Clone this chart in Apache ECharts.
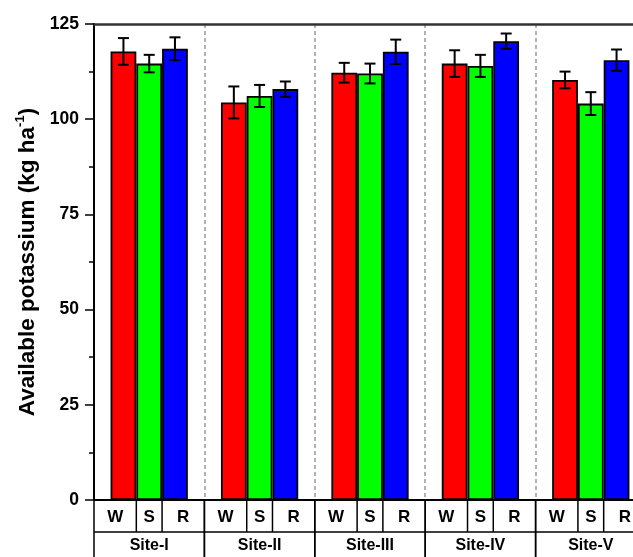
<!DOCTYPE html>
<html>
<head>
<meta charset="utf-8">
<script src="https://cdn.jsdelivr.net/npm/echarts@6/dist/echarts.min.js"></script>
<style>
  html, body { margin: 0; padding: 0; background: #fff; overflow: hidden; }
  /* the canvas runs a little past the window; the last site's right edge is cut off */
  #chart { width: 646px; height: 557px; }
</style>
</head>
<body>
<div id="chart"></div>
<script>
// Sites and management treatments
const sites = ['Site-I', 'Site-II', 'Site-III', 'Site-IV', 'Site-V'];
const treatments = ['W', 'S', 'R'];

// Available potassium (kg ha-1): means and standard errors per treatment
const wMean = [117.8, 104.4, 112.2, 114.6, 110.3];
const wErr  = [3.5, 4.2, 2.6, 3.5, 2.2];
const sMean = [114.6, 106.1, 112.0, 114.0, 104.1];
const sErr  = [2.3, 2.9, 2.6, 2.9, 3.0];
const rMean = [118.5, 107.9, 117.7, 120.5, 115.5];
const rErr  = [3.0, 2.0, 3.2, 2.0, 2.8];

// Y axis ticks
const yMin = 0, yMax = 125, yStep = 25;

const colors = ['#ff0000', '#00ff00', '#0000ff'];
const FONT = '"Liberation Sans", Arial, sans-serif';
const GROUP_FRAC = 0.7; // share of each site band filled by its three bars

const means = [wMean, sMean, rMean];
const errs = [wErr, sErr, rErr];

const chart = echarts.init(document.getElementById('chart'));

function barSeries(k) {
  return {
    name: treatments[k],
    type: 'bar',
    xAxisIndex: 0,
    data: means[k],
    barGap: '0%',
    barCategoryGap: ((1 - GROUP_FRAC) * 100) + '%',
    itemStyle: { color: colors[k], borderColor: '#000', borderWidth: 1.8 },
    z: 3
  };
}

function errorSeries(k) {
  return {
    type: 'custom',
    xAxisIndex: 0,
    data: means[k].map((m, i) => [i, m - errs[k][i], m + errs[k][i]]),
    z: 5,
    clip: false,
    renderItem(params, api) {
      const i = api.value(0);
      const top = api.coord([i, api.value(2)]);
      const bot = api.coord([i, api.value(1)]);
      const band = api.size([1, 0])[0];
      const bw = band * GROUP_FRAC / 3;
      const x = top[0] + (k - 1) * bw;
      const cap = 5.5;
      const st = { stroke: '#000', lineWidth: 2 };
      return {
        type: 'group',
        children: [
          { type: 'line', shape: { x1: x, y1: top[1], x2: x, y2: bot[1] }, style: st },
          { type: 'line', shape: { x1: x - cap, y1: top[1], x2: x + cap, y2: top[1] }, style: st },
          { type: 'line', shape: { x1: x - cap, y1: bot[1], x2: x + cap, y2: bot[1] }, style: st }
        ]
      };
    }
  };
}

// Two-row category table under the x axis: treatment letters, then site names
const tableSeries = {
  type: 'custom',
  xAxisIndex: 0,
  data: sites.map((s, i) => [i, 0]),
  z: 6,
  clip: false,
  silent: true,
  renderItem(params, api) {
    const i = api.value(0);
    const base = api.coord([i, 0]);
    const cx = base[0], y0 = base[1];
    const band = api.size([1, 0])[0];
    const bw = band * GROUP_FRAC / 3;
    const left = cx - band / 2, right = cx + band / 2;
    const row1 = 32, row2 = 60;
    const st = { stroke: '#000', lineWidth: 1.5 };
    const txt = (t, x, y, size) => ({
      type: 'text',
      style: {
        text: t, x: x, y: y, fill: '#000',
        font: 'bold ' + size + 'px ' + FONT,
        align: 'center', verticalAlign: 'middle',
        textAlign: 'center', textVerticalAlign: 'middle'
      }
    });
    const cellEdges = [left, cx - bw / 2, cx + bw / 2, right];
    const children = [
      { type: 'line', shape: { x1: left, y1: y0, x2: left, y2: y0 + row2 }, style: st },
      { type: 'line', shape: { x1: right, y1: y0, x2: right, y2: y0 + row2 }, style: st },
      { type: 'line', shape: { x1: cellEdges[1], y1: y0, x2: cellEdges[1], y2: y0 + row1 }, style: st },
      { type: 'line', shape: { x1: cellEdges[2], y1: y0, x2: cellEdges[2], y2: y0 + row1 }, style: st },
      { type: 'line', shape: { x1: left, y1: y0 + row1, x2: right, y2: y0 + row1 }, style: st }
    ];
    treatments.forEach((t, k) => {
      children.push(txt(t, (cellEdges[k] + cellEdges[k + 1]) / 2, y0 + row1 / 2 + 1, 17));
    });
    children.push(txt(sites[i], cx, y0 + 46, 16));
    return { type: 'group', children };
  }
};

const option = {
  animation: false,
  backgroundColor: '#fff',
  grid: { left: 94, top: 24, right: 0, bottom: 57 },
  xAxis: [
    {
      type: 'category',
      data: sites,
      position: 'bottom',
      axisLine: { show: true, lineStyle: { color: '#000', width: 2 } },
      axisTick: { show: false },
      axisLabel: { show: false },
      splitLine: {
        show: true,
        lineStyle: { color: '#999', width: 1.5, type: [4, 3] }
      }
    },
    {
      type: 'category',
      data: sites,
      position: 'top',
      axisLine: { show: true, onZero: false, lineStyle: { color: '#333', width: 2.5 } },
      axisTick: { show: false },
      axisLabel: { show: false },
      splitLine: { show: false }
    }
  ],
  yAxis: {
    type: 'value',
    min: yMin,
    max: yMax,
    interval: yStep,
    name: '{t|Available potassium (kg ha}{s|-1}{t|)}',
    nameLocation: 'middle',
    nameGap: 48,
    nameRotate: 90,
    nameTextStyle: {
      rich: {
        t: { fontSize: 22.5, fontWeight: 'bold', fontFamily: FONT, color: '#000', lineHeight: 26 },
        s: { fontSize: 13, fontWeight: 'bold', fontFamily: FONT, color: '#000', verticalAlign: 'top', lineHeight: 26, padding: [0, 0, 10, 0] }
      }
    },
    axisLine: { show: true, lineStyle: { color: '#000', width: 2 } },
    axisTick: { show: true, length: 9, lineStyle: { color: '#000', width: 1.5 } },
    minorTick: { show: true, splitNumber: 2, length: 5, lineStyle: { color: '#000', width: 1.5 } },
    axisLabel: { color: '#000', fontSize: 17.5, fontWeight: 'bold', fontFamily: FONT, margin: 15 },
    splitLine: { show: false }
  },
  series: [
    barSeries(0), barSeries(1), barSeries(2),
    errorSeries(0), errorSeries(1), errorSeries(2),
    tableSeries
  ]
};

chart.setOption(option);
</script>
</body>
</html>
